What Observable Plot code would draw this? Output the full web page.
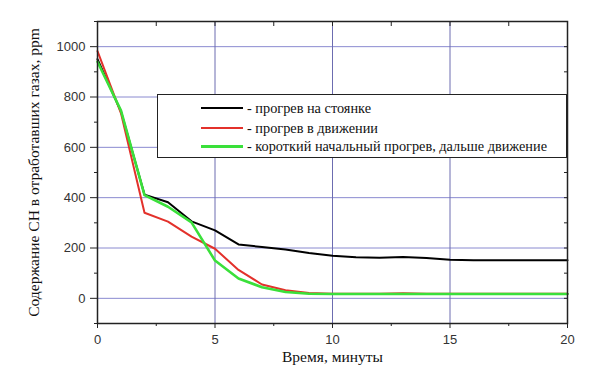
<!DOCTYPE html>
<html>
<head>
<meta charset="utf-8">
<script src="https://cdn.jsdelivr.net/npm/d3@7"></script>
<script src="https://cdn.jsdelivr.net/npm/@observablehq/plot@0.6"></script>
<style>
  html, body { margin: 0; padding: 0; background: #fff; }
  #wrap { position: relative; width: 594px; height: 375px; }
  #wrap svg { display: block; }
  g[aria-label="y-axis label"] text, g[aria-label="x-axis label"] text {
    font-family: "Liberation Serif", "Times New Roman", serif; font-size: 15.5px; fill: #111;
  }
  #legend {
    position: absolute; left: 157px; top: 94px; width: 408px; height: 62px;
    border: 1.5px solid #222; background: #fff;
    font-family: "Liberation Serif", "Times New Roman", serif; font-size: 14.3px; color: #111;
  }
  .row { position: absolute; left: 43px; height: 16px; display: flex; align-items: center; white-space: nowrap; }
  .sw { width: 42px; height: 2.5px; margin-right: 4px; }
</style>
</head>
<body>
<div id="wrap"></div>
<script>
// time, minutes
const time = [0,1,2,3,4,5,6,7,8,9,10,11,12,13,14,15,16,17,18,19,20];
// CH content, ppm
const parked  = [950,742,412,382,306,270,214,204,194,180,169,163,161,164,160,153,151,151,151,151,151];
const moving  = [982,735,340,305,245,197,113,55,32,21,18,18,18,20,18,18,18,18,18,18,18];
const shortWarm = [940,746,410,364,302,150,79,44,25,18,17,17,17,17,17,17,17,17,17,17,17];

const seriesNames = [
  "- прогрев на стоянке",
  "- прогрев в движении",
  "- короткий начальный прогрев, дальше движение"
];
const seriesColors = ["#000000", "#e3312b", "#3ae03a"];
const seriesValues = [parked, moving, shortWarm];
const seriesWidths = [2, 2, 2.6];

const yMajor = [0, 200, 400, 600, 800, 1000];
const yMinor = [-100, 100, 300, 500, 700, 900, 1100];
const xMajor = [0, 5, 10, 15, 20];
const xMinor = [2.5, 7.5, 12.5, 17.5];

const rows = [];
seriesValues.forEach((vals, i) => vals.forEach((v, j) => rows.push({t: time[j], v, s: seriesNames[i]})));

const tickFont = {fontFamily: "'Liberation Sans', Arial, sans-serif", fontSize: 13, fill: "#333"};

const chart = Plot.plot({
  width: 594, height: 375,
  marginLeft: 97, marginRight: 27, marginTop: 21, marginBottom: 52,
  x: {domain: [0, 20]},
  y: {domain: [-100, 1100]},
  style: {background: "#fff"},
  marks: [
    Plot.gridY(yMajor, {stroke: "#8a8ad0", strokeOpacity: 1, strokeWidth: 1}),
    Plot.gridX([5, 10, 15], {stroke: "#6c6cb0", strokeOpacity: 1, strokeWidth: 1}),
    ...seriesNames.map((name, i) => Plot.line(rows.filter(d => d.s === name), {
      x: "t", y: "v", stroke: seriesColors[i], strokeWidth: seriesWidths[i], strokeLinejoin: "round"
    })),
    Plot.frame({stroke: "#222", strokeWidth: 1.5}),
    Plot.axisY(yMajor, {anchor: "left", tickSize: 7, tickPadding: 5, stroke: "#222", tickFormat: d => String(d),
      label: "Содержание СН в отработавших газах, ppm", labelAnchor: "center", labelArrow: "none", labelOffset: 70,
      ...tickFont}),
    Plot.axisY(yMinor, {anchor: "left", tickSize: 3, tickFormat: () => "", label: null, stroke: "#222"}),
    Plot.axisY([...yMajor, ...yMinor], {anchor: "right", tickSize: 4, dx: -4, tickFormat: () => "", label: null, stroke: "#222"}),
    Plot.axisX(xMajor, {anchor: "bottom", tickSize: 5, tickPadding: 6, stroke: "#222", tickFormat: d => String(d),
      label: "Время, минуты", labelAnchor: "center", labelArrow: "none", labelOffset: 38,
      ...tickFont}),
    Plot.axisX(xMinor, {anchor: "bottom", tickSize: 3, tickFormat: () => "", label: null, stroke: "#222"}),
    Plot.axisX([...xMajor, ...xMinor], {anchor: "top", tickSize: 4, dy: 4, tickFormat: () => "", label: null, stroke: "#222"})
  ]
});

const wrap = document.getElementById("wrap");
wrap.appendChild(chart);

const legend = document.createElement("div");
legend.id = "legend";
const rowTops = [5, 25, 43];
seriesNames.forEach((name, i) => {
  const r = document.createElement("div");
  r.className = "row";
  r.style.top = rowTops[i] + "px";
  const sw = document.createElement("span");
  sw.className = "sw";
  sw.style.background = seriesColors[i];
  if (i === 2) sw.style.height = "3px";
  const tx = document.createElement("span");
  tx.textContent = name;
  r.appendChild(sw); r.appendChild(tx);
  legend.appendChild(r);
});
wrap.appendChild(legend);
</script>
</body>
</html>
